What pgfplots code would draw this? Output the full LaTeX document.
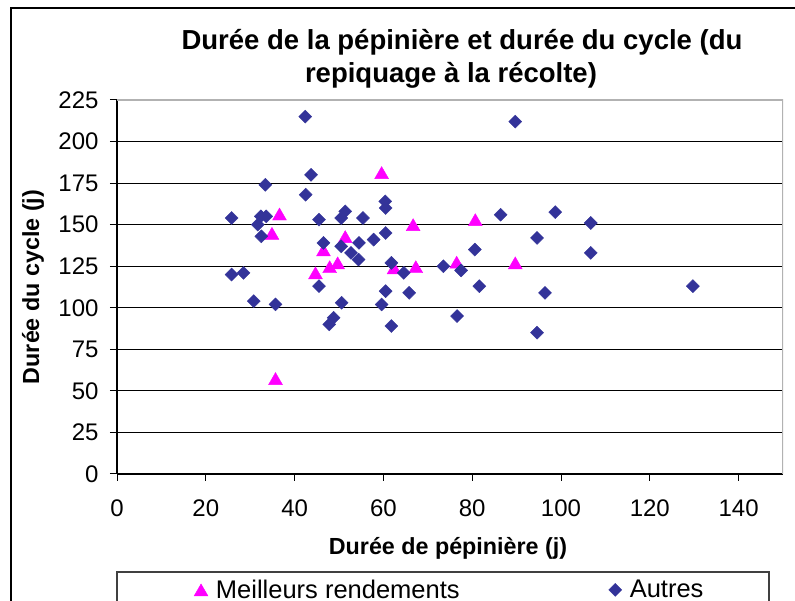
\documentclass[border=0pt]{standalone}
\usepackage{fontspec}
\setmainfont{Liberation Sans}
\usepackage{pgfplots}
\pgfplotsset{compat=1.18}
\definecolor{autres}{HTML}{333399}
\definecolor{meilleurs}{HTML}{FF00FF}

\begin{document}
\begin{tikzpicture}
\path[use as bounding box] (0pt,0pt) rectangle (795pt,601pt);
% cadre du graphique (coupe a droite et en bas)
\draw[line width=1.5pt] (11pt,-20pt) -- (11pt,593pt) -- (820pt,593pt);
\node[font=\bfseries\fontsize{27.5}{33}\selectfont] at (462pt,559pt) {Durée de la pépinière et durée du cycle (du};
\node[font=\bfseries\fontsize{27.5}{33}\selectfont] at (451pt,526pt) {repiquage à la récolte)};

\begin{axis}[
  at={(117pt,127pt)}, anchor=south west,
  width=666pt, height=374pt, scale only axis,
  xmin=0, xmax=150, ymin=0, ymax=225,
  xtick={0,20,...,140}, ytick={0,25,...,225},
  axis x line*=bottom, axis y line*=left,
  axis line style={line width=1.5pt, -},
  tick align=outside, major tick length=7pt,
  tick style={black, line width=1pt},
  ymajorgrids, grid style={black, line width=1pt},
  ticklabel style={font=\fontsize{24}{28}\selectfont},
  /pgf/number format/assume math mode=true,
  yticklabel style={xshift=-8pt},
  xticklabel style={yshift=-15pt},
  xlabel={Durée de pépinière (j)},
  ylabel={Durée du cycle (j)},
  label style={font=\bfseries\fontsize{23.3}{28}\selectfont},
  xlabel style={at={(axis description cs:0.497,-0.198)}, anchor=center},
  ylabel style={at={(axis description cs:-0.126,0.5)}, anchor=center},
  legend columns=2,
  legend style={draw=none, fill=none, font=\fontsize{25.5}{30}\selectfont,
    at={(axis description cs:0.111,-0.31)}, anchor=west,
    /tikz/every odd column/.append style={column sep=6pt},
    /tikz/every even column/.append style={column sep=147pt}},
]
\addplot[only marks, mark=triangle*, mark size=8pt,
  mark options={draw=meilleurs, fill=meilleurs, yshift=-2pt}]
  coordinates {
  (36.6,156.4) (34.9,144.8) (46.5,134.8) (44.7,121) (47.9,124.7)
  (49.7,127) (51.4,142.8) (35.7,57.4) (59.6,181.3) (66.7,150)
  (80.7,153) (62.4,124) (67.3,124.7) (76.5,127.4) (89.7,127)
  };
\addlegendentry{Meilleurs rendements}
\addplot[only marks, mark=square*, mark size=4.6pt,
  mark options={draw=autres, fill=autres, rotate=45}]
  coordinates {
  (42.4,215) (43.7,180) (33.4,174) (42.5,168) (25.8,154) (32.4,155)
  (33.6,155) (31.7,150) (32.5,143) (45.5,153) (25.8,120) (28.5,121)
  (46.5,139) (50.5,137) (51.4,158) (50.5,154) (45.5,113) (30.8,104)
  (35.7,102) (50.6,103) (48.8,94) (47.8,90) (89.7,212) (60.4,164)
  (60.5,160) (55.4,154) (86.4,156) (98.7,157.5) (94.6,142) (60.5,145)
  (54.5,139) (57.8,141) (52.7,133) (54.4,129) (80.6,135) (61.8,127)
  (64.6,121) (73.5,125) (77.5,122.5) (81.6,113) (60.5,110) (59.6,102)
  (61.8,89) (65.8,109) (76.6,95) (96.4,109) (94.6,85) (106.7,151)
  (106.7,133) (129.7,113)
  };
\addlegendentry{Autres}
% bordure grise haut et droite de la zone de tracé
\draw[gray!60, line width=1.5pt] (rel axis cs:0,1) -- (rel axis cs:1,1) -- (rel axis cs:1,0);
\end{axis}
% cadre de la légende
\draw[black!75, line width=1.2pt] (117pt,-30pt) rectangle (769pt,29pt);
\end{tikzpicture}
\end{document}
